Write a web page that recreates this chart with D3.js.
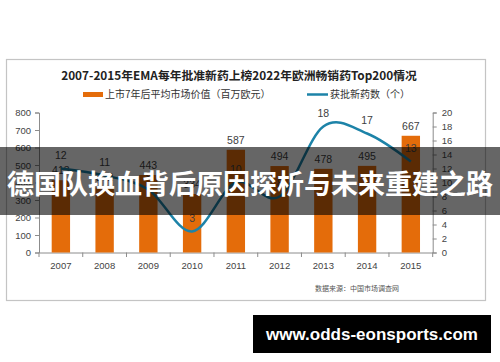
<!DOCTYPE html>
<html>
<head>
<meta charset="utf-8">
<script src="https://cdn.jsdelivr.net/npm/d3@7"></script>
<style>
  html, body { margin: 0; padding: 0; background: #fff; }
  svg { display: block; }
  text { font-family: "Liberation Sans", "Noto Sans CJK SC", sans-serif; }
  .cjk { font-family: "Noto Sans CJK SC", "Liberation Sans", sans-serif; }
</style>
</head>
<body>
<svg width="500" height="362"></svg>
<script>
(function (d3) {
  'use strict';

  var svg = d3.select('svg');

  // data
  var years = ['2007', '2008', '2009', '2010', '2011', '2012', '2013', '2014', '2015'];
  var marketValue = [413, 372, 443, 334, 587, 494, 478, 495, 667];
  var approvedCount = [12, 11, 9, 3, 10, 8, 18, 17, 13];
  var leftTicks = [0, 100, 200, 300, 400, 500, 600, 700, 800];
  var rightTicks = [0, 2, 4, 6, 8, 10, 12, 14, 16, 18, 20];

  var orange = '#e46c0a';
  var blue = '#1d83a8';

  // frame
  svg.append('rect')
      .attr('x', 6.5).attr('y', 59.5)
      .attr('width', 479).attr('height', 241)
      .attr('fill', '#fff')
      .attr('stroke', '#c4c4c4')
      .attr('stroke-width', 1.2);

  svg.append('text')
      .attr('class', 'cjk')
      .attr('x', 239).attr('y', 80)
      .attr('text-anchor', 'middle')
      .attr('font-size', 11.8)
      .attr('font-weight', 'bold')
      .attr('fill', '#222')
      .text('2007-2015年EMA每年批准新药上榜2022年欧洲畅销药Top200情况');

  // legend
  var legend = svg.append('g');
  legend.append('rect')
      .attr('x', 83).attr('y', 92)
      .attr('width', 20).attr('height', 5)
      .attr('fill', orange);
  legend.append('text')
      .attr('class', 'cjk')
      .attr('x', 105).attr('y', 98)
      .attr('font-size', 10)
      .attr('fill', '#333')
      .text('上市7年后平均市场价值（百万欧元）');
  legend.append('line')
      .attr('x1', 307).attr('x2', 328)
      .attr('y1', 94.5).attr('y2', 94.5)
      .attr('stroke', blue)
      .attr('stroke-width', 2.5);
  legend.append('text')
      .attr('class', 'cjk')
      .attr('x', 330).attr('y', 98)
      .attr('font-size', 10)
      .attr('fill', '#333')
      .text('获批新药数（个）');

  // scales
  var x = d3.scaleBand().domain(years).range([39, 432.7]).padding(0);
  var yL = d3.scaleLinear().domain([0, 800]).range([252.5, 112.5]);
  var yR = d3.scaleLinear().domain([0, 20]).range([252.5, 112.5]);
  var barW = x.bandwidth() * 0.42;

  //axes
  var leftAxis = svg.append('g')
      .attr('transform', 'translate(39,0)')
      .call(d3.axisLeft(yL).tickValues(leftTicks).tickSize(4).tickPadding(4));
  var rightAxis = svg.append('g')
      .attr('transform', 'translate(432.7,0)')
      .call(d3.axisRight(yR).tickValues(rightTicks).tickSize(4).tickPadding(5));
  var bottomAxis = svg.append('g')
      .attr('transform', 'translate(0,252.5)')
      .call(d3.axisBottom(x).tickSize(0).tickPadding(10));

  [leftAxis, rightAxis, bottomAxis].forEach(function (g) {
    g.select('.domain').attr('stroke', '#8c8c8c');
    g.selectAll('.tick line').attr('stroke', '#8c8c8c');
    g.selectAll('.tick text')
        .attr('font-size', 9.5)
        .attr('font-family', '"Liberation Sans", sans-serif')
        .attr('fill', '#444');
  });

  // category boundary ticks
  svg.append('g').selectAll('line')
      .data(years.concat(['end']))
      .enter()
      .append('line')
      .attr('x1', function (d, i) { return 39 + i * x.step(); })
      .attr('x2', function (d, i) { return 39 + i * x.step(); })
      .attr('y1', 252.5).attr('y2', 257)
      .attr('stroke', '#8c8c8c');

  // bars
  svg.append('g').selectAll('rect')
      .data(marketValue)
      .enter()
      .append('rect')
      .attr('x', function (d, i) { return x(years[i]) + x.bandwidth() / 2 - barW / 2; })
      .attr('y', function (d) { return yL(d); })
      .attr('width', barW)
      .attr('height', function (d) { return yL(0) - yL(d); })
      .attr('fill', orange);

  svg.append('g').selectAll('text')
      .data(marketValue)
      .enter()
      .append('text')
      .attr('x', function (d, i) { return x(years[i]) + x.bandwidth() / 2; })
      .attr('y', function (d) { return yL(d) - 6; })
      .attr('text-anchor', 'middle')
      .attr('font-size', 10.5)
      .attr('fill', '#404040')
      .text(function (d) { return d; });

  // line
  var line = d3.line()
      .x(function (d, i) { return x(years[i]) + x.bandwidth() / 2; })
      .y(function (d) { return yR(d); })
      .curve(d3.curveCardinal.tension(0));

  svg.append('path')
      .datum(approvedCount)
      .attr('d', line)
      .attr('fill', 'none')
      .attr('stroke', blue)
      .attr('stroke-width', 2.5);

  svg.append('g').selectAll('text')
      .data(approvedCount)
      .enter()
      .append('text')
      .attr('x', function (d, i) { return x(years[i]) + x.bandwidth() / 2; })
      .attr('y', function (d) { return yR(d) - 10; })
      .attr('text-anchor', 'middle')
      .attr('font-size', 10.5)
      .attr('fill', '#404040')
      .text(function (d) { return d; });

  // source note
  svg.append('text')
      .attr('class', 'cjk')
      .attr('x', 315).attr('y', 291)
      .attr('font-size', 7)
      .attr('fill', '#555')
      .text('数据来源：中国市场调查网');

  // overlay banner
  svg.append('rect')
      .attr('x', 0).attr('y', 147)
      .attr('width', 500).attr('height', 68)
      .attr('fill', 'rgba(0,0,0,0.6)');
  svg.append('text')
      .attr('class', 'cjk')
      .attr('x', 250).attr('y', 194)
      .attr('text-anchor', 'middle')
      .attr('font-size', 27)
      .attr('font-weight', 'bold')
      .attr('fill', '#fff')
      .text('德国队换血背后原因探析与未来重建之路');

  // watermark
  svg.append('rect')
      .attr('x', 253).attr('y', 315)
      .attr('width', 238).attr('height', 38)
      .attr('fill', '#000');
  svg.append('text')
      .attr('x', 372).attr('y', 340)
      .attr('text-anchor', 'middle')
      .attr('font-family', '"DejaVu Sans", sans-serif')
      .attr('font-size', 17)
      .attr('font-weight', 'bold')
      .attr('fill', '#fff')
      .text('www.odds-eonsports.com');

}(d3));
</script>
</body>
</html>
